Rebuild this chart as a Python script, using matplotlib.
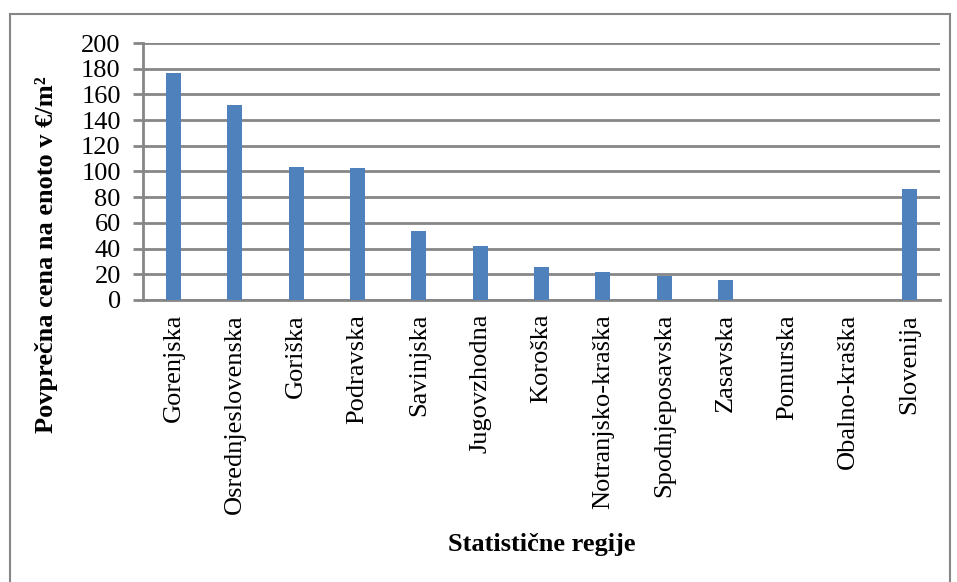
import matplotlib
matplotlib.use("Agg")
import matplotlib.pyplot as plt
from matplotlib.patches import Rectangle

categories = ["Gorenjska", "Osrednjeslovenska", "Goriška", "Podravska", "Savinjska",
              "Jugovzhodna", "Koroška", "Notranjsko-kraška", "Spodnjeposavska",
              "Zasavska", "Pomurska", "Obalno-kraška", "Slovenija"]
values = [177, 152, 103.5, 102.5, 54, 42, 25.5, 21.5, 19, 15.5, 0, 0, 86.5]
yticks = [0, 20, 40, 60, 80, 100, 120, 140, 160, 180, 200]

plt.rcParams['font.family'] = ['Liberation Serif', 'DejaVu Serif']

W, H = 957, 582
FS = 19
fig = plt.figure(figsize=(W / 100, H / 100), dpi=100)
ax = fig.add_axes([143 / W, 1 - 300 / H, (940 - 143) / W, (300 - 43) / H])

x = list(range(len(categories)))
ax.bar(x, values, width=0.245, color="#4F81BD", zorder=3)
ax.set_xlim(-0.5, len(categories) - 0.5)
ax.set_ylim(0, 200)
ax.set_yticks(yticks)
ax.set_yticklabels([str(v) for v in yticks], fontsize=FS)
ax.set_xticks(x)
ax.set_xticklabels(categories, rotation=90, fontsize=FS)
ax.tick_params(axis='x', length=0, pad=10)
ax.tick_params(axis='y', length=7, width=2, color="#868686", pad=9)
ax.yaxis.grid(True, color="#868686", linewidth=2, zorder=0)
ax.set_axisbelow(True)
for s in ["top", "right"]:
    ax.spines[s].set_visible(False)
ax.spines["left"].set_color("#868686")
ax.spines["left"].set_linewidth(2)
ax.spines["bottom"].set_color("#868686")
ax.spines["bottom"].set_linewidth(2)

fig.text(47 / W, 1 - 255 / H, "Povprečna cena na enoto v €/m²", rotation=90,
         fontsize=FS, fontweight="bold", ha="center", va="center")
fig.text(542 / W, 1 - 545 / H, "Statistične regije", fontsize=FS,
         fontweight="bold", ha="center", va="center")

fig.patches.append(Rectangle((10 / W, -0.05), (950 - 10) / W, 1 - 14 / H + 0.05,
                             transform=fig.transFigure, fill=False,
                             edgecolor="#868686", linewidth=1.5))

fig.savefig("out.png", dpi=100)
